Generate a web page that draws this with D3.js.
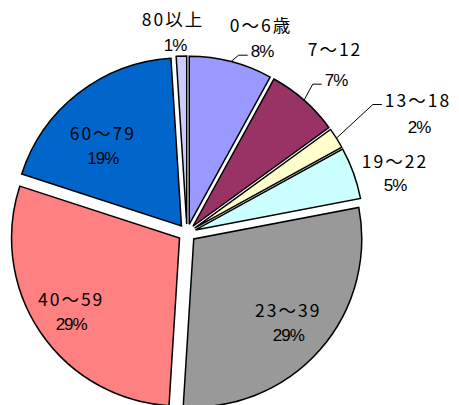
<!DOCTYPE html>
<html>
<head>
<meta charset="utf-8">
<script src="https://cdn.jsdelivr.net/npm/d3@7"></script>
<style>
  body { margin: 0; background: #fff; }
  .cat { font-family: "Noto Sans CJK JP", "Noto Sans", sans-serif; font-size: 17.5px; font-weight: 400; letter-spacing: 2px; fill: #000; }
  .pct { font-family: "Liberation Sans", Arial, sans-serif; font-size: 17px; letter-spacing: -1px; fill: #000; }
</style>
</head>
<body>
<div class="chart"></div>
<script>
// Data
var categories = ["0〜6歳", "7〜12", "13〜18", "19〜22", "23〜39", "40〜59", "60〜79", "80以上"];
var shares = [8, 7, 2, 5, 29, 29, 19, 1];
var colors = ["#9999ff", "#993366", "#ffffcc", "#ccffff", "#999999", "#ff8080", "#0066cc", "#ccccff"];

// Setup chart
var svgWidth = 459;
var svgHeight = 405;
var cx = 187, cy = 233;
var radius = 168;
var explode = 9;

var svg = d3.select(".chart")
  .append("svg")
  .attr("width", svgWidth)
  .attr("height", svgHeight);

var chart = svg.append("g")
  .attr("transform", "translate(" + cx + "," + cy + ")");

var pie = d3.pie().sort(null).value(function(d) { return d; });
var arcs = pie(shares);

var arc = d3.arc().innerRadius(0).outerRadius(radius);

function midAngle(a) { return (a.startAngle + a.endAngle) / 2; }
function offset(a) { return d3.pointRadial(midAngle(a), explode); }

// slices, each pushed out along its bisector
chart.selectAll("path.slice")
  .data(arcs)
  .enter().append("path")
    .attr("class", "slice")
    .attr("transform", function(a) { var o = offset(a); return "translate(" + o[0] + "," + o[1] + ")"; })
    .attr("d", arc)
    .attr("fill", function(a, i) { return colors[i]; })
    .attr("stroke", "#000")
    .attr("stroke-width", 1.5)
    .attr("stroke-linejoin", "miter");

// inside labels: distance (fraction of radius) and angle nudge (degrees)
var insideR = { 4: [0.75, 0], 5: [0.78, 0], 6: [0.67, -6] };

// outside label placement (category centre, percent centre), leader target
var outside = {
  0: { cat: [261, 24], pct: [262, 51], leader: "pct" },
  1: { cat: [335, 48], pct: [336, 80], leader: "pct" },
  2: { cat: [418, 99], pct: [419, 127], leader: "cat" },
  3: { cat: [395, 160], pct: [395, 185] },
  7: { cat: [173, 18], pct: [175, 45] }
};

var labels = svg.append("g");

arcs.forEach(function(a, i) {
  var catPos, pctPos;
  if (outside[i]) {
    catPos = outside[i].cat;
    pctPos = outside[i].pct;
  } else {
    var ang = midAngle(a) + insideR[i][1] * Math.PI / 180;
    var c = d3.pointRadial(ang, radius * insideR[i][0] + explode);
    catPos = [cx + c[0], cy + c[1] - 13];
    pctPos = [cx + c[0], cy + c[1] + 13];
  }
  var catText = labels.append("text")
    .attr("class", "cat")
    .attr("x", catPos[0])
    .attr("y", catPos[1])
    .attr("text-anchor", "middle")
    .attr("dominant-baseline", "central")
    .text(categories[i]);
  var pctText = labels.append("text")
    .attr("class", "pct")
    .attr("x", pctPos[0])
    .attr("y", pctPos[1])
    .attr("text-anchor", "middle")
    .attr("dominant-baseline", "central")
    .text(shares[i] + "%");

  // leader lines for the narrow slices
  if (outside[i] && outside[i].leader) {
    var target = outside[i].leader == "pct" ? pctText : catText;
    var bb = target.node().getBBox();
    var o = offset(a);
    var start = d3.pointRadial(midAngle(a), radius);
    var x0 = cx + o[0] + start[0], y0 = cy + o[1] + start[1];
    var ex = bb.x - 3, ey = bb.y + bb.height * 0.72;
    labels.append("path")
      .attr("d", "M" + x0 + "," + y0 + "L" + (ex - 9) + "," + ey + "L" + ex + "," + ey)
      .attr("fill", "none")
      .attr("stroke", "#000")
      .attr("stroke-width", 1);
  }
});
</script>
</body>
</html>
